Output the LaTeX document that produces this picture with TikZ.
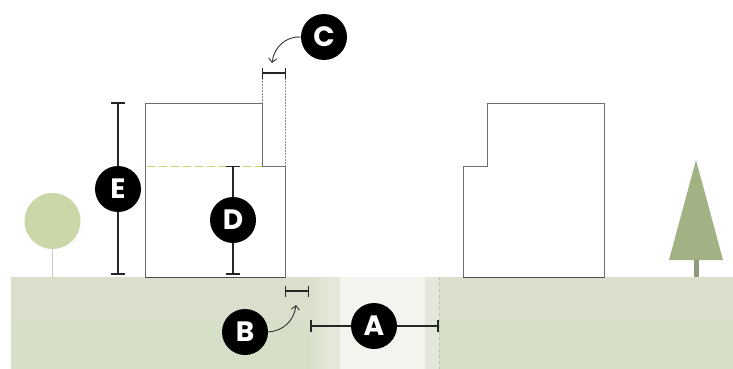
\documentclass[tikz,border=0pt]{standalone}
\usepackage{fontspec}
\setmainfont{Poppins}
\usetikzlibrary{arrows.meta}
\definecolor{grndA}{HTML}{DADFCB}
\definecolor{grndB}{HTML}{D6E0C9}
\definecolor{walkA}{HTML}{E4E8DA}
\definecolor{roadA}{HTML}{F3F4EE}
\definecolor{roundtree}{HTML}{CBD6A9}
\definecolor{conetree}{HTML}{A3B284}
\definecolor{trunk}{HTML}{C9CDC4}
\definecolor{trunkB}{HTML}{8F9A7C}
\definecolor{wall}{HTML}{6E6E6E}
\definecolor{dashgreen}{HTML}{C8D66A}
\tikzset{
  x=1pt,y=-1pt,
  badge/.style={circle,fill=black,text=white,minimum size=46pt,inner sep=0pt,font=\fontsize{28}{28}\selectfont\bfseries},
  wallline/.style={draw=wall,line width=0.8pt,line join=miter},
  baseline wall/.style={draw=black!70,line width=0.9pt},
  dimline/.style={draw=black!85,line width=1.5pt},
  dimcap/.style={draw=black!85,line width=1.2pt},
  dimsmall/.style={draw=black!85,line width=1.2pt,{Bar[width=11pt,line width=1.1pt]}-{Bar[width=11pt,line width=1.1pt]}},
  pointer/.style={draw=black!80,line width=0.9pt,-{Straight Barb[length=4pt,width=8pt]}},
  guide/.style={draw=black!45,line width=0.5pt,dash pattern=on 1.5pt off 1.5pt},
}
\begin{document}
\begin{tikzpicture}
\useasboundingbox (0,0) rectangle (733,369);
\fill[white] (0,0) rectangle (733,369);
% ground
\fill[grndA] (11,277) rectangle (733,322);
\fill[grndB] (11,322) rectangle (733,369);
% pavement and road
\shade[left color=grndB,right color=walkA] (309,322) rectangle (330,369);
\shade[left color=grndA,right color=walkA] (309,277) rectangle (330,322);
\fill[walkA] (330,277) rectangle (340,369);
\fill[roadA] (340,277) rectangle (425,369);
\fill[walkA] (425,277) rectangle (439,369);
\draw[draw=black!25,line width=0.8pt,dash pattern=on 3pt off 3pt] (439,277) -- (439,369);
% trees
\draw[trunk,line width=1pt] (52,240) -- (52,278);
\fill[roundtree] (52.5,221) circle (28);
\fill[conetree] (696,160) -- (723,260) -- (669,260) -- cycle;
\fill[trunkB] (693.5,260) rectangle (698.5,277);
% buildings
\path[wallline] (262,166) -- (262,103) -- (145,103) -- (145,277) -- (285,277) -- (285,166) -- (262,166);
\path[baseline wall] (145,277) -- (285,277);
\draw[dashgreen,line width=0.9pt,dash pattern=on 8pt off 4pt] (147,166.5) -- (262,166.5);
\path[wallline] (463,277) -- (463,166) -- (487,166) -- (487,103) -- (604,103) -- (604,277) -- cycle;
\path[baseline wall] (463,277) -- (604,277);
% guides
\coordinate (cl) at (262,73); \coordinate (cr) at (286,73);
\path[guide] (262,78) -- (262,103);
\path[guide] (285.5,78) -- (285.5,166);
% badges
\node[badge] (E) at (118,189) {E};
\node[badge] (D) at (233,220) {D};
\node[badge] (B) at (245,332) {B};
\node[badge] (C) at (324,37) {C};
\node[badge] (A) at (374,326) {A};
% dimensions
\coordinate (Et) at (118,103); \coordinate (Eb) at (118,274);
\coordinate (Dt) at (233,166.5); \coordinate (Db) at (233,274);
\coordinate (Bl) at (285,291); \coordinate (Br) at (309,291);
\coordinate (Al) at (311,326); \coordinate (Ar) at (438,326);
\draw[dimline] (Et) -- (E);
\draw[dimline] (Eb) -- (E);
\draw[dimcap] ([xshift=-7]Et) -- ([xshift=7]Et) ([xshift=-7]Eb) -- ([xshift=7]Eb);
\draw[dimline] (Dt) -- (D);
\draw[dimline] (Db) -- (D);
\draw[dimcap] ([xshift=-7]Dt) -- ([xshift=7]Dt) ([xshift=-7]Db) -- ([xshift=7]Db);
\draw[dimsmall] (Bl) -- (Br);
\draw[dimsmall] (cl) -- (cr);
\draw[dimline] (Al) -- (A);
\draw[dimline] (Ar) -- (A);
\draw[dimcap] ([yshift=-6]Al) -- ([yshift=6]Al) ([yshift=-6]Ar) -- ([yshift=6]Ar);
% pointers
\coordinate (Cp) at (272,63); \coordinate (Bp) at (296,305);
\draw[pointer] (C.west) .. controls (286,36) and (274,47) .. (Cp);
\draw[pointer] (B.east) .. controls (283,331) and (294,321) .. (Bp);
\end{tikzpicture}
\end{document}
